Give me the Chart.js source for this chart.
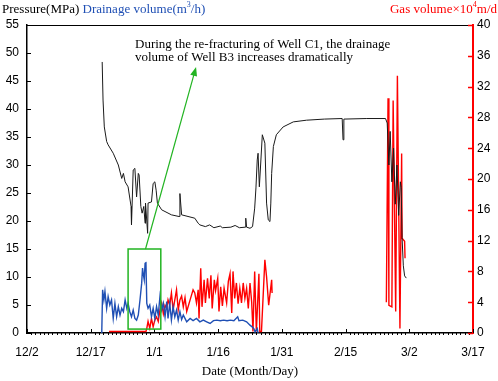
<!DOCTYPE html>
<html>
<head>
<meta charset="utf-8">
<script src="https://cdn.jsdelivr.net/npm/chart.js@4"></script>
<style>
  html, body { margin: 0; padding: 0; background: #fff; }
</style>
</head>
<body>
<canvas id="chart" width="498" height="381"></canvas>
<script>
// x axis = days since 12/2
const dateLabels = ['12/2', '12/17', '1/1', '1/16', '1/31', '2/15', '3/2', '3/17'];

const pressureDays = [17.7, 17.9, 18.2, 18.75, 19.1, 20.3, 21.5, 22.3, 22.7, 23.1, 23.8, 24.5, 24.6, 25, 25.4, 25.8, 26.2, 26.4, 26.8, 27.1, 27.5, 27.8, 27.9, 28.4, 28.5, 29.3, 29.7, 30.1, 30.4, 30.7, 31.7, 34, 35.8, 36, 36.4, 39.5, 40.3, 40.7, 42, 43, 44, 45.5, 46, 48, 49, 50, 51.4, 51.5, 51.7, 52.5, 53.1, 53.6, 53.9, 54.2, 54.4, 54.7, 55, 55.4, 56, 56.4, 56.8, 57.2, 57.4, 57.6, 58, 58.7, 60.3, 62.7, 65.8, 70, 74.2, 74.4, 74.6, 80, 84.4, 84.8, 85.2, 85.5, 85.9, 86.3, 86.7, 87.1, 87.5, 87.9, 88.1, 88.3, 88.6, 88.9, 89.3];
const pressureValues = [48.4, 41.6, 36.8, 34.2, 33.6, 32.1, 30, 27.6, 28.5, 27, 26.1, 22.6, 19.3, 29.1, 29.4, 24.3, 28.5, 28.2, 22.6, 21.4, 22.6, 19.6, 23.2, 17.8, 23.2, 23.4, 26.7, 27, 25.5, 23.2, 22, 21.1, 20.8, 24.9, 21.1, 20.5, 19.6, 19.3, 19, 19.3, 18.8, 19.1, 18.8, 18.9, 19.2, 18.8, 18.9, 20.5, 18.9, 18.7, 19, 22.3, 25.9, 30.9, 32.1, 26.1, 30, 35.4, 33.9, 23.2, 20.2, 19.9, 23.2, 28.5, 33.3, 35.4, 36.8, 37.7, 38, 38.2, 38.3, 34.5, 38.2, 38.3, 38.3, 37.5, 30, 36, 27, 33, 23, 30, 21, 27, 26, 17, 12, 10.2, 9.8];

const drainageDays = [17.6, 17.8, 18.1, 18.35, 18.75, 19.1, 19.5, 19.9, 20.3, 20.7, 21.1, 21.5, 21.9, 22.3, 22.7, 23.1, 23.5, 23.8, 24.2, 24.6, 25, 25.4, 25.8, 26.2, 26.6, 27, 27.2, 27.4, 27.6, 27.8, 28, 28.2, 28.5, 28.9, 29.3, 29.7, 30.1, 30.5, 30.9, 31.3, 31.7, 32.1, 32.5, 32.9, 33.2, 33.6, 34, 34.4, 34.8, 35.2, 35.6, 36, 36.4, 36.8, 37.6, 38.4, 39.1, 39.9, 40.7, 41.5, 42.3, 43.1, 43.9, 44.7, 45.5, 46.3, 47.1, 47.9, 48.7, 49.6, 49.9, 50.8, 51.7, 52.5, 53, 53.4, 53.7, 54.2, 54.4];
const drainageValues = [0, 7.7, 5.9, 7.4, 4.4, 6.5, 5, 5.9, 2.6, 5.3, 2.9, 4.7, 3.2, 4.4, 3.8, 5.9, 4.4, 5.3, 3.8, 2.9, 4.1, 2.6, 2.3, 3.2, 5.9, 8.9, 11.6, 10.4, 9.5, 12.4, 12.7, 5.3, 4.4, 5, 2.9, 4.4, 2.6, 4.7, 3.2, 6.5, 4.1, 5.3, 2.9, 5.6, 2.6, 5.3, 2.3, 4.7, 2.9, 4.1, 2.3, 3.8, 2.4, 3.2, 2, 2.6, 2.2, 2.6, 2, 2.3, 2, 1.7, 2.2, 2.3, 2.2, 2.3, 2.2, 2.3, 2.2, 2.9, 2.2, 2.3, 2, 1.4, 1.1, 0.8, 0.2, 0.8, 0];

const gasDays = [19.3, 28, 28.2, 28.5, 28.9, 29.3, 29.7, 30.1, 30.5, 30.9, 31.3, 31.7, 32.1, 32.5, 32.9, 33.2, 33.6, 34, 34.4, 34.8, 35.2, 35.6, 36, 36.4, 36.8, 37.2, 37.6, 38.4, 39.1, 39.5, 39.9, 40.3, 40.5, 40.9, 41.2, 41.7, 42, 42.5, 42.9, 43.3, 43.6, 44.1, 44.4, 44.9, 45.2, 45.6, 46, 46.4, 47, 47.4, 47.8, 48.2, 48.5, 48.9, 49.3, 49.7, 50.1, 50.5, 50.9, 51.3, 51.7, 52.1, 52.5, 52.9, 53.2, 53.6, 54, 54.6, 54.8, 55.2, 56, 56.4, 56.9, 57.6, 57.7, 70, 84.6, 85.0, 85.2, 85.9, 86.2, 86.8, 87.2, 87.8, 88.2, 88.3, 88.9, 89.0];
const gasValues = [0.2, 0.2, 0.6, 1.5, 0.6, 1.9, 0.8, 1.7, 2.1, 1.5, 3, 3.9, 2.5, 3.6, 3.2, 4.3, 3.6, 5.2, 3, 4.3, 5.6, 3, 4.3, 4.8, 3.4, 4.6, 2.8, 4.3, 5.6, 5.2, 3.9, 5.6, 1.9, 8.4, 3.4, 6.9, 3.9, 7.1, 4.5, 7.5, 3.2, 6.9, 5.5, 7.1, 2.8, 6, 3.5, 5.8, 3.9, 6.7, 7.7, 2.6, 8, 4.5, 6.5, 3.8, 5.8, 3.9, 6.5, 4.5, 5.8, 3.2, 6.5, 4, 0.2, 8, 0.2, 7.7, 0.2, 0.2, 9.5, 7.3, 3.6, 6.9, 5.2, null, 4, 30.5, 3.6, 3.4, 30.2, 2.8, 33.4, 0.6, 23.3, 12.3, 11.9, 9.7];

// green callout: box around the B3 drainage peak and arrow to the note
const boxDays = [23.8, 31.5];
const boxPressure = [0.7, 15];
const arrowDays = [27.9, 39.8];
const arrowPressure = [15, 47.5];
const noteLines = ['During the re-fracturing of Well C1, the drainage', 'volume of Well B3 increases dramatically'];

function pairs(xs, ys) {
  return xs.map((x, i) => ({ x: x, y: ys[i] }));
}

const serif = "'Liberation Serif', 'Times New Roman', serif";
const sans = "'Liberation Sans', Arial, sans-serif";

function drawSup(ctx, parts, x, y) {
  // parts: [text, isSuperscript]
  parts.forEach(([t, sup]) => {
    ctx.font = sup ? '8px ' + serif : '13px ' + serif;
    ctx.fillText(t, x, sup ? y - 5 : y);
    x += ctx.measureText(t).width;
  });
  return x;
}

function partsWidth(ctx, parts) {
  let w = 0;
  parts.forEach(([t, sup]) => {
    ctx.font = sup ? '8px ' + serif : '13px ' + serif;
    w += ctx.measureText(t).width;
  });
  return w;
}

const decorPlugin = {
  id: 'decor',
  afterDatasetsDraw(chart) {
    const ctx = chart.ctx;
    const { left, right, top, bottom } = chart.chartArea;
    const xs = chart.scales.x, ys = chart.scales.y, y2 = chart.scales.y2;
    ctx.save();

    // top frame line
    ctx.strokeStyle = '#000';
    ctx.lineWidth = 1;
    ctx.beginPath();
    ctx.moveTo(left, top + 0.5);
    ctx.lineTo(right, top + 0.5);
    ctx.stroke();

    // x ticks: major every 15 days pointing up, minor every day pointing down
    ctx.lineWidth = 1;
    for (let d = 0; d <= 105; d++) {
      const px = Math.round(xs.getPixelForValue(d)) + 0.5;
      ctx.beginPath();
      if (d % 15 === 0) {
        ctx.moveTo(px, bottom);
        ctx.lineTo(px, bottom - 4);
      } else {
        ctx.moveTo(px, bottom);
        ctx.lineTo(px, bottom + 2);
      }
      ctx.stroke();
    }

    // left ticks
    for (let v = 0; v <= 55; v += 5) {
      const py = Math.round(ys.getPixelForValue(v)) + 0.5;
      ctx.beginPath();
      ctx.moveTo(left, py);
      ctx.lineTo(left + 4, py);
      ctx.stroke();
    }

    // right ticks in red
    ctx.strokeStyle = '#ff0000';
    ctx.lineWidth = 1.5;
    for (let v = 0; v <= 40; v += 4) {
      const py = Math.round(y2.getPixelForValue(v)) + 0.5;
      ctx.beginPath();
      ctx.moveTo(right, py);
      ctx.lineTo(right - 5, py);
      ctx.stroke();
    }

    // green box
    ctx.strokeStyle = '#22b422';
    ctx.fillStyle = '#22b422';
    ctx.lineWidth = 1.5;
    const bx0 = xs.getPixelForValue(boxDays[0]), bx1 = xs.getPixelForValue(boxDays[1]);
    const by0 = ys.getPixelForValue(boxPressure[1]), by1 = ys.getPixelForValue(boxPressure[0]);
    ctx.strokeRect(bx0, by0, bx1 - bx0, by1 - by0);

    // arrow
    const ax0 = xs.getPixelForValue(arrowDays[0]), ay0 = ys.getPixelForValue(arrowPressure[0]);
    const ax1 = xs.getPixelForValue(arrowDays[1]), ay1 = ys.getPixelForValue(arrowPressure[1]);
    const ang = Math.atan2(ay1 - ay0, ax1 - ax0);
    const hl = 9, hw = 3.5;
    ctx.lineWidth = 1.2;
    ctx.beginPath();
    ctx.moveTo(ax0, ay0);
    ctx.lineTo(ax1 - Math.cos(ang) * hl * 0.8, ay1 - Math.sin(ang) * hl * 0.8);
    ctx.stroke();
    ctx.beginPath();
    ctx.moveTo(ax1, ay1);
    ctx.lineTo(ax1 - Math.cos(ang) * hl - Math.sin(ang) * hw, ay1 - Math.sin(ang) * hl + Math.cos(ang) * hw);
    ctx.lineTo(ax1 - Math.cos(ang) * hl + Math.sin(ang) * hw, ay1 - Math.sin(ang) * hl - Math.cos(ang) * hw);
    ctx.closePath();
    ctx.fill();

    // note text
    ctx.fillStyle = '#000';
    ctx.font = '13px ' + serif;
    ctx.textBaseline = 'middle';
    ctx.textAlign = 'left';
    ctx.fillText(noteLines[0], 135, 45);
    ctx.fillText(noteLines[1], 135, 57.5);

    // axis titles on top
    ctx.font = '13px ' + serif;
    ctx.fillStyle = '#000';
    ctx.fillText('Pressure(MPa)', 2, 10);
    let tx = 2 + ctx.measureText('Pressure(MPa) ').width;
    ctx.fillStyle = '#1f4fb4';
    drawSup(ctx, [['Drainage volume(m', false], ['3', true], ['/h)', false]], tx, 10);

    const gasParts = [['Gas volume×10', false], ['4', true], ['m/d', false]];
    const gw = partsWidth(ctx, gasParts);
    ctx.fillStyle = '#ff0000';
    drawSup(ctx, gasParts, 497 - gw, 10);

    ctx.restore();
  }
};

new Chart(document.getElementById('chart'), {
  type: 'line',
  data: {
    datasets: [
      {
        label: 'Pressure',
        data: pairs(pressureDays, pressureValues),
        yAxisID: 'y',
        borderColor: '#1a1a1a',
        borderWidth: 1,
        pointRadius: 0,
        tension: 0
      },
      {
        label: 'Drainage volume',
        data: pairs(drainageDays, drainageValues),
        yAxisID: 'y',
        borderColor: '#1f4fb4',
        borderWidth: 1.4,
        pointRadius: 0,
        tension: 0
      },
      {
        label: 'Gas volume',
        data: pairs(gasDays, gasValues),
        yAxisID: 'y2',
        borderColor: '#ff0000',
        borderWidth: 1.4,
        pointRadius: 0,
        tension: 0,
        spanGaps: false
      }
    ]
  },
  options: {
    responsive: false,
    animation: false,
    devicePixelRatio: 1,
    layout: { padding: { top: 25, left: 0, right: 0, bottom: 0 } },
    plugins: { legend: { display: false }, tooltip: { enabled: false } },
    scales: {
      x: {
        type: 'linear',
        min: 0,
        max: 105,
        grid: { display: false, drawTicks: false },
        border: { display: true, color: '#000', width: 1.5 },
        ticks: {
          stepSize: 15,
          autoSkip: false,
          maxRotation: 0,
          padding: 12,
          color: '#000',
          font: { family: sans, size: 12 },
          callback: (v) => dateLabels[Math.round(v / 15)]
        },
        title: {
          display: true,
          text: 'Date (Month/Day)',
          color: '#000',
          font: { family: serif, size: 13 },
          padding: { top: 0, bottom: 2 }
        },
        afterFit: (s) => { s.height = 48; }
      },
      y: {
        position: 'left',
        min: 0,
        max: 55,
        grid: { display: false, drawTicks: false },
        border: { display: true, color: '#000', width: 1.5 },
        ticks: {
          stepSize: 5,
          padding: 8,
          color: '#000',
          font: { family: sans, size: 12 }
        },
        afterFit: (s) => { s.width = 27; }
      },
      y2: {
        position: 'right',
        min: 0,
        max: 40,
        grid: { display: false, drawTicks: false },
        border: { display: true, color: '#ff0000', width: 2 },
        ticks: {
          stepSize: 4,
          padding: 4,
          color: '#000',
          font: { family: sans, size: 12 }
        },
        afterFit: (s) => { s.width = 25; }
      }
    }
  },
  plugins: [decorPlugin]
});
</script>
</body>
</html>
